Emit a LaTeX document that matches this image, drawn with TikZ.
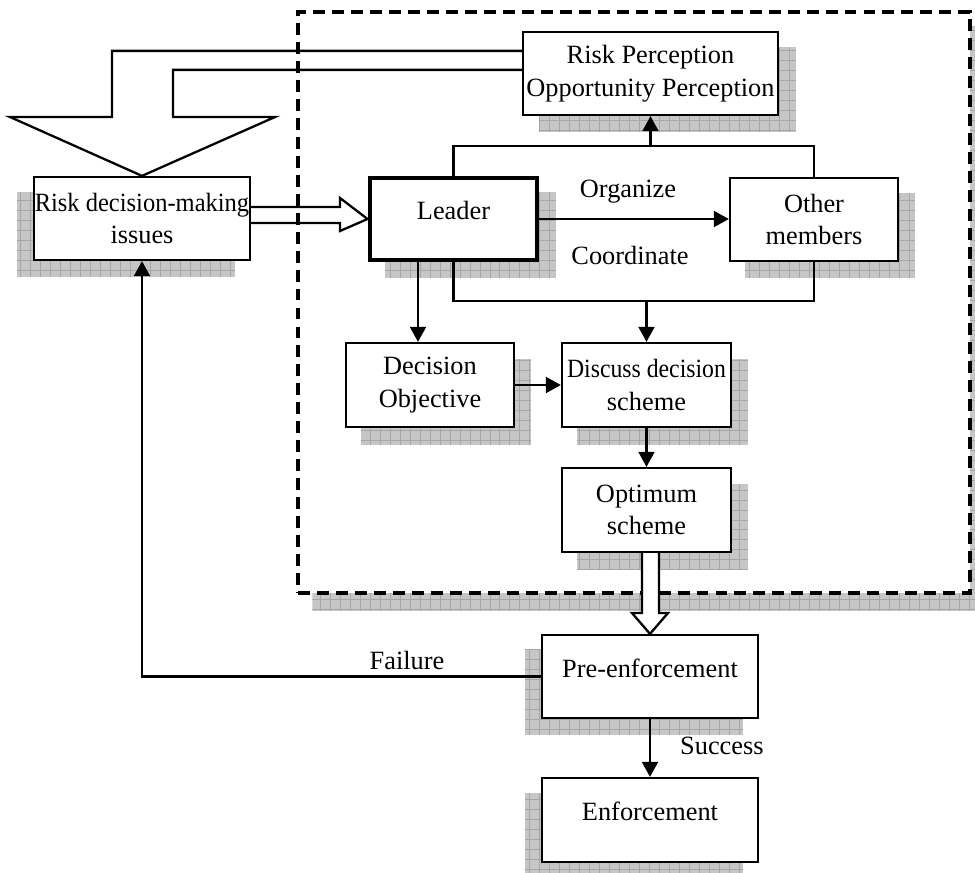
\documentclass[tikz,border=0pt]{standalone}
\usepackage{fontspec}
\setmainfont{Liberation Serif}
\usepackage{graphicx}
\usetikzlibrary{arrows.meta,calc}

\pgfdeclarelayer{frameshade}
\pgfdeclarelayer{frame}
\pgfdeclarelayer{shade}
\pgfsetlayers{frameshade,frame,shade,main}

\tikzset{
  line/.style={line width=1.3pt, line join=miter},
  arr/.style={line, -{Triangle[length=8.5pt,width=9pt]}},
  box/.style={draw, line width=1.3pt, fill=white, align=center, inner sep=0pt},
  lift/.style={text height=11pt, text depth=10pt},
  shadefill/.style={fill=gray!45},
  shadegrid/.style={draw=gray!70, line width=0.45pt, step=0.2cm},
}

% hatched drop shadow behind a node: #1 layer, #2 node, #3 dx, #4 dy
\newcommand\dropshade[4]{%
  \begin{pgfonlayer}{#1}
    \begin{scope}
      \clip ($(#2.north west)+(#3,#4)$) rectangle ($(#2.south east)+(#3,#4)$);
      \fill[shadefill] ($(#2.north west)+(#3,#4)$) rectangle ($(#2.south east)+(#3,#4)$);
      \draw[shadegrid] ($(#2.south west)+(#3,#4)$) grid ($(#2.north east)+(#3,#4)$);
    \end{scope}
  \end{pgfonlayer}}

\begin{document}
\begin{tikzpicture}[x=0.02cm, y=-0.02cm, font=\fontsize{15}{18.5}\selectfont]
\useasboundingbox (0,0) rectangle (975,873);

% group frame
\begin{pgfonlayer}{frame}
  \node[draw, fill=white, line width=2pt, dash pattern=on 6.8pt off 4pt,
        minimum width=13.44cm, minimum height=11.62cm, inner sep=0pt] (team) at (634,302.5) {};
\end{pgfonlayer}
\dropshade{frameshade}{team}{16}{16}

% boxes
\node[box, minimum width=5.10cm, minimum height=1.66cm] (RP) at (650.5,73.5)
  {Risk Perception\\Opportunity Perception};
\node[box, minimum width=4.32cm, minimum height=1.66cm] (RDM) at (142,218.5)
  {\scalebox{0.93}[1]{Risk decision-making}\\issues};
\node[box, lift, line width=2.8pt, minimum width=3.34cm, minimum height=1.64cm] (Leader) at (453.5,219)
  {Leader};
\node[box, minimum width=3.36cm, minimum height=1.66cm] (Other) at (814,219.5)
  {Other\\members};
\node[box, minimum width=3.36cm, minimum height=1.68cm] (DecO) at (430,385)
  {Decision\\Objective};
\node[box, minimum width=3.38cm, minimum height=1.68cm] (Disc) at (646.5,385)
  {\scalebox{0.9}[1]{Discuss decision}\\scheme};
\node[box, minimum width=3.38cm, minimum height=1.68cm] (Opt) at (646.5,510)
  {Optimum\\scheme};
\node[box, lift, minimum width=4.32cm, minimum height=1.66cm] (Pre) at (650,676.5)
  {Pre-enforcement};
\node[box, lift, minimum width=4.32cm, minimum height=1.68cm] (Enf) at (650,820)
  {Enforcement};

% shadows
\dropshade{shade}{RP}{17}{16}
\dropshade{shade}{RDM}{-16}{16}
\dropshade{shade}{Leader}{17}{16}
\dropshade{shade}{Other}{16}{16}
\dropshade{shade}{DecO}{16}{17}
\dropshade{shade}{Disc}{16}{17}
\dropshade{shade}{Opt}{16}{17}
\dropshade{shade}{Pre}{-16}{16}
\dropshade{shade}{Enf}{-16}{16}

% wide feedback arrow from perception to the issues
\draw[line] ($(RP.north west)+(0,20)$) -| (112,117) -- (10,117) -- (RDM.north)
  -- (275,117) -- (173,117) |- ($(RP.north west)+(0,39)$);

% hollow arrow from issues to leader
\draw[line] (RDM.east |- 0,207) -- (340,207) -- (340,198) -- (Leader.west)
  -- (340,231) -- (340,223) -- (RDM.east |- 0,223);

% leader organizes the other members
\draw[arr] (Leader.east) -- (Other.west |- Leader.east);
\node (org) at (628,192) {Organize};
\node (coo) at (630,255) {Coordinate};

% both report to perception
\coordinate (topbar) at (RP.south |- 0,146);
\draw[line] (Leader.north) |- (topbar) -| (Other.north);
\draw[arr] (topbar) -- (RP.south);

% both discuss the scheme
\coordinate (botbar) at (Disc.north |- 0,301);
\draw[line] (Leader.south) |- (botbar) -| (Other.south);
\draw[arr] (botbar) -- (Disc.north);

% leader sets the objective
\coordinate (ldx) at (418,0);
\draw[arr] (Leader.south -| ldx) -- (DecO.north -| ldx);
\draw[arr] (DecO.east) -- (Disc.west);
\draw[arr] (Disc.south) -- (Opt.north);

% optimum scheme goes to pre-enforcement
\filldraw[line, fill=white] (642,0 |- Opt.south) -- (642,613) -- (632,613) -- (Pre.north)
  -- (668,613) -- (659,613) -- (659,0 |- Opt.south);

% outcomes
\draw[arr] (Pre.south) -- (Enf.north);
\node[anchor=west] (succ) at (674,746) {Success};
\draw[arr] (Pre.west) -| (RDM.south);
\node (fail) at (407,660) {Failure};
\end{tikzpicture}
\end{document}
